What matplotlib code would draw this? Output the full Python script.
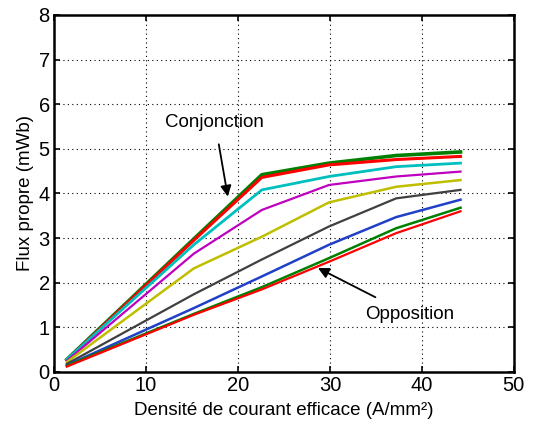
import matplotlib
matplotlib.use("Agg")
import matplotlib.pyplot as plt

# DATA
j_eff = [1.4, 15.2, 22.6, 29.9, 37.2, 44.2]

flux_green1 = [0.28, 2.98, 4.42, 4.68, 4.85, 4.93]
flux_red1 = [0.27, 2.95, 4.36, 4.64, 4.76, 4.83]
flux_cyan = [0.28, 2.85, 4.08, 4.38, 4.60, 4.68]
flux_magenta = [0.25, 2.65, 3.63, 4.19, 4.38, 4.49]
flux_yellow = [0.22, 2.32, 3.03, 3.80, 4.15, 4.30]
flux_black = [0.18, 1.74, 2.52, 3.26, 3.89, 4.08]
flux_blue = [0.15, 1.43, 2.14, 2.85, 3.47, 3.86]
flux_green2 = [0.14, 1.30, 1.90, 2.55, 3.22, 3.68]
flux_red2 = [0.12, 1.28, 1.85, 2.47, 3.11, 3.60]

#PLOT
plt.rcParams['font.family'] = ['Liberation Sans', 'DejaVu Sans']
fig = plt.figure(figsize=(5.36, 4.28), dpi=100)
ax = fig.add_axes([0.1007, 0.131, 0.858, 0.834])

ax.plot(j_eff, flux_green1, color="#008000", linewidth=2.6)
ax.plot(j_eff, flux_red1, color="#ff0000", linewidth=2.2)
ax.plot(j_eff, flux_cyan, color="#00bfbf", linewidth=2)
ax.plot(j_eff, flux_magenta, color="#bf00bf", linewidth=1.6)
ax.plot(j_eff, flux_yellow, color="#bfbf00", linewidth=1.8)
ax.plot(j_eff, flux_black, color="#404040", linewidth=1.6)
ax.plot(j_eff, flux_blue, color="#2040c8", linewidth=1.8)
ax.plot(j_eff, flux_green2, color="#008000", linewidth=1.8)
ax.plot(j_eff, flux_red2, color="#ff0000", linewidth=1.6)

#ANNOTATIONS
ax.annotate("Conjonction", xy=(18.9, 3.93), xytext=(17.5, 5.6),
            ha="center", va="center", fontsize=13.5,
            arrowprops=dict(arrowstyle="-|>", color="black", lw=1.3,
                            mutation_scale=16, shrinkA=8, shrinkB=0))
ax.annotate("Opposition", xy=(28.7, 2.33), xytext=(38.7, 1.28),
            ha="center", va="center", fontsize=13.5,
            arrowprops=dict(arrowstyle="-|>", color="black", lw=1.3,
                            mutation_scale=16, shrinkA=10, shrinkB=0))

#AXES
ax.set_xlim(0, 50)
ax.set_ylim(0, 8)
ax.set_xticks([0, 10, 20, 30, 40, 50])
ax.set_yticks(range(0, 9))
ax.grid(True, color="black", linestyle=(0, (1, 3)), linewidth=0.8)
ax.tick_params(direction="in", top=True, right=True, labelsize=14.5, length=4, width=1.2, pad=3)
for s in ax.spines.values():
    s.set_linewidth(1.8)
ax.set_xlabel("Densité de courant efficace (A/mm²)", fontsize=13.5, labelpad=5)
ax.set_ylabel("Flux propre (mWb)", fontsize=13.5, labelpad=3)

fig.savefig("out.png", dpi=100)
